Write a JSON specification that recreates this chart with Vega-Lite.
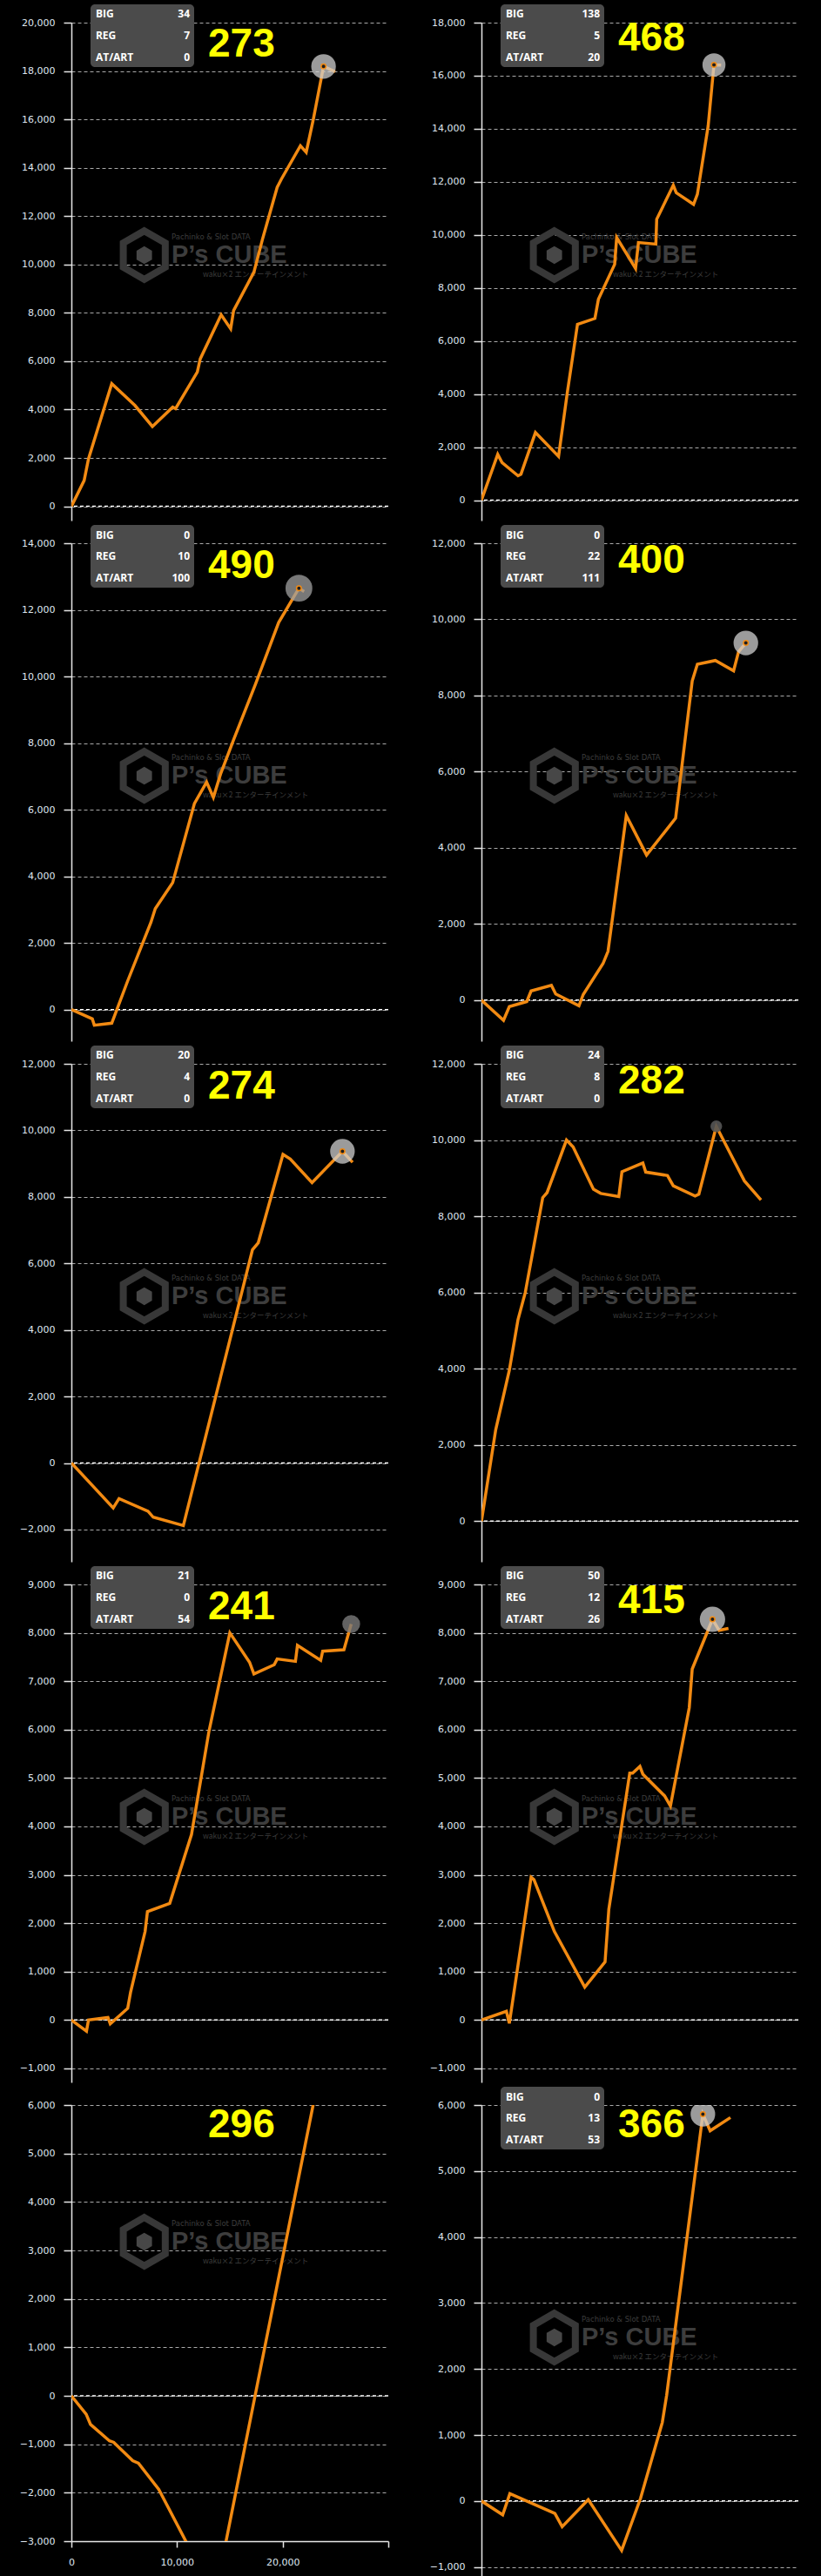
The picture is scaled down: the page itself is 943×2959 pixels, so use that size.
{
"$schema": "https://vega.github.io/schema/vega-lite/v6.json",
"background": "#000000",
"padding": {"left": 22, "top": 4, "right": 26, "bottom": 0},
"columns": 2,
"spacing": {"row": 26, "column": 107},
"bounds": "flush",
"datasets": {
"baseline": [{"value": 0}],
"brand": [{"tagline": "Pachinko & Slot DATA", "name": "P’s CUBE", "company": "waku×2 エンターテインメント"}],
"stats": [
{"panel": 1, "names": ["BIG","REG","AT/ART"], "counts": [34,7,0], "games": 273},
{"panel": 2, "names": ["BIG","REG","AT/ART"], "counts": [138,5,20], "games": 468},
{"panel": 3, "names": ["BIG","REG","AT/ART"], "counts": [0,10,100], "games": 490},
{"panel": 4, "names": ["BIG","REG","AT/ART"], "counts": [0,22,111], "games": 400},
{"panel": 5, "names": ["BIG","REG","AT/ART"], "counts": [20,4,0], "games": 274},
{"panel": 6, "names": ["BIG","REG","AT/ART"], "counts": [24,8,0], "games": 282},
{"panel": 7, "names": ["BIG","REG","AT/ART"], "counts": [21,0,54], "games": 241},
{"panel": 8, "names": ["BIG","REG","AT/ART"], "counts": [50,12,26], "games": 415},
{"panel": 9, "games": 296},
{"panel": 10, "names": ["BIG","REG","AT/ART"], "counts": [0,13,53], "games": 366}
],
"p1": [{"g":0,"diff":0},{"g":1210,"diff":1070},{"g":1620,"diff":1970},{"g":3820,"diff":5070},{"g":6020,"diff":4170},{"g":7670,"diff":3300},{"g":9590,"diff":4100},{"g":9860,"diff":4040},{"g":11920,"diff":5550},{"g":12200,"diff":6100},{"g":14180,"diff":7920},{"g":15080,"diff":7340},{"g":15360,"diff":8100},{"g":17280,"diff":9680},{"g":18100,"diff":11060},{"g":19480,"diff":13190},{"g":19890,"diff":13540},{"g":21680,"diff":14910},{"g":22230,"diff":14640},{"g":22910,"diff":16020},{"g":23870,"diff":18190},{"g":24970,"diff":17970}],
"p2": [{"g":0,"diff":0},{"g":1540,"diff":1730},{"g":1950,"diff":1420},{"g":3460,"diff":920},{"g":3740,"diff":980},{"g":5110,"diff":2550},{"g":7300,"diff":1650},{"g":8130,"diff":4060},{"g":9090,"diff":6630},{"g":10740,"diff":6850},{"g":11070,"diff":7570},{"g":12610,"diff":8890},{"g":12800,"diff":9900},{"g":14590,"diff":8730},{"g":14860,"diff":9710},{"g":16510,"diff":9650},{"g":16590,"diff":10590},{"g":18160,"diff":11870},{"g":18440,"diff":11590},{"g":20080,"diff":11150},{"g":20440,"diff":11530},{"g":21460,"diff":14100},{"g":22010,"diff":16410},{"g":22690,"diff":16400}],
"p3": [{"g":0,"diff":0},{"g":1980,"diff":-280},{"g":2170,"diff":-470},{"g":3820,"diff":-410},{"g":5330,"diff":860},{"g":7530,"diff":2620},{"g":7940,"diff":3030},{"g":9590,"diff":3810},{"g":11650,"diff":6190},{"g":12800,"diff":6830},{"g":13440,"diff":6370},{"g":14120,"diff":7070},{"g":15360,"diff":8100},{"g":17420,"diff":9760},{"g":19620,"diff":11620},{"g":21540,"diff":12650},{"g":22030,"diff":12550}],
"p4": [{"g":0,"diff":0},{"g":2090,"diff":-530},{"g":2640,"diff":-170},{"g":4290,"diff":-40},{"g":4700,"diff":240},{"g":6620,"diff":390},{"g":7030,"diff":160},{"g":9230,"diff":-150},{"g":9640,"diff":150},{"g":11510,"diff":960},{"g":11980,"diff":1280},{"g":13710,"diff":4850},{"g":15630,"diff":3810},{"g":18380,"diff":4780},{"g":19950,"diff":8380},{"g":20440,"diff":8820},{"g":22140,"diff":8920},{"g":23870,"diff":8650},{"g":24340,"diff":9150},{"g":25030,"diff":9380}],
"p5": [{"g":0,"diff":0},{"g":3960,"diff":-1350},{"g":4510,"diff":-1070},{"g":7250,"diff":-1450},{"g":7750,"diff":-1630},{"g":10600,"diff":-1880},{"g":17140,"diff":6410},{"g":17690,"diff":6620},{"g":20030,"diff":9280},{"g":20720,"diff":9140},{"g":22780,"diff":8430},{"g":25660,"diff":9370},{"g":26620,"diff":9040}],
"p6": [{"g":0,"diff":0},{"g":1350,"diff":2400},{"g":2640,"diff":3960},{"g":3460,"diff":5290},{"g":4150,"diff":6000},{"g":5800,"diff":8490},{"g":6210,"diff":8620},{"g":8050,"diff":10000},{"g":8680,"diff":9820},{"g":10600,"diff":8710},{"g":11290,"diff":8600},{"g":13000,"diff":8520},{"g":13300,"diff":9170},{"g":15280,"diff":9400},{"g":15550,"diff":9160},{"g":17610,"diff":9070},{"g":18160,"diff":8800},{"g":20220,"diff":8530},{"g":20580,"diff":8580},{"g":22230,"diff":10360},{"g":24890,"diff":8930},{"g":26460,"diff":8430}],
"p7": [{"g":0,"diff":0},{"g":1430,"diff":-230},{"g":1620,"diff":0},{"g":3460,"diff":50},{"g":3680,"diff":-80},{"g":5330,"diff":240},{"g":5600,"diff":570},{"g":6980,"diff":1830},{"g":7200,"diff":2240},{"g":9310,"diff":2410},{"g":11370,"diff":3830},{"g":13020,"diff":5960},{"g":15000,"diff":8000},{"g":16870,"diff":7390},{"g":17280,"diff":7150},{"g":19200,"diff":7340},{"g":19480,"diff":7460},{"g":21210,"diff":7410},{"g":21400,"diff":7740},{"g":23600,"diff":7430},{"g":23790,"diff":7620},{"g":25800,"diff":7650},{"g":26490,"diff":8180}],
"p8": [{"g":0,"diff":0},{"g":2360,"diff":180},{"g":2640,"diff":-70},{"g":4700,"diff":2950},{"g":4970,"diff":2900},{"g":6900,"diff":1830},{"g":9780,"diff":680},{"g":11700,"diff":1200},{"g":12060,"diff":2290},{"g":14040,"diff":5100},{"g":14310,"diff":5100},{"g":15000,"diff":5240},{"g":15280,"diff":5080},{"g":17340,"diff":4630},{"g":17890,"diff":4420},{"g":19670,"diff":6450},{"g":19950,"diff":7250},{"g":21870,"diff":8280},{"g":22500,"diff":8050},{"g":23380,"diff":8090}],
"p9": [{"g":0,"diff":0},{"g":1400,"diff":-380},{"g":1810,"diff":-590},{"g":3600,"diff":-930},{"g":4010,"diff":-960},{"g":5800,"diff":-1340},{"g":6350,"diff":-1390},{"g":8270,"diff":-1930},{"g":13590,"diff":-4150},{"g":24000,"diff":7220}],
"p10": [{"g":0,"diff":0},{"g":2010,"diff":-210},{"g":2690,"diff":110},{"g":6950,"diff":-190},{"g":7640,"diff":-390},{"g":10110,"diff":20},{"g":13270,"diff":-750},{"g":15060,"diff":40},{"g":17120,"diff":1190},{"g":17530,"diff":1600},{"g":20960,"diff":5860},{"g":21650,"diff":5610},{"g":23570,"diff":5810}]
},
"concat": [
{"width": 364, "height": 572, "layer": [
{"data":{"name":"brand"},"mark":{"type":"point","shape":"M0,-1L0.866,-0.5L0.866,0.5L0,1L-0.866,0.5L-0.866,-0.5Z","size":3100,"filled":false,"stroke":"#383838","strokeWidth":8,"opacity":1},"encoding":{"x":{"datum":6900},"y":{"datum":10388}}},
{"data":{"name":"brand"},"mark":{"type":"point","shape":"M0,-1L0.866,-0.5L0.866,0.5L0,1L-0.866,0.5L-0.866,-0.5Z","size":420,"filled":true,"color":"#474747","opacity":1},"encoding":{"x":{"datum":6900},"y":{"datum":10388}}},
{"data":{"name":"brand"},"mark":{"type":"text","align":"left","baseline":"middle","dy":-21,"font":"DejaVu Sans","fontSize":8.5,"color":"#3d3d3d"},"encoding":{"x":{"datum":9480},"y":{"datum":10388},"text":{"field":"tagline","type":"nominal"}}},
{"data":{"name":"brand"},"mark":{"type":"text","align":"left","baseline":"middle","font":"Liberation Sans","fontSize":29,"fontWeight":"bold","color":"#3d3d3d"},"encoding":{"x":{"datum":9480},"y":{"datum":10388},"text":{"field":"name","type":"nominal"}}},
{"data":{"name":"brand"},"mark":{"type":"text","align":"left","baseline":"middle","dy":22,"font":"Noto Sans CJK JP","fontSize":8.5,"color":"#3d3d3d"},"encoding":{"x":{"datum":12450},"y":{"datum":10388},"text":{"field":"company","type":"nominal"}}},
{"data":{"name":"baseline"},"mark":{"type":"rule","color":"#ffffff","strokeDash":[4,3],"strokeWidth":1.5},"encoding":{"y":{"field":"value","type":"quantitative","title":null}}},
{"data":{"name":"p1"},"mark":{"type":"line","color":"#f28a12","strokeWidth":3.5,"clip":true},"encoding":{"x":{"field":"g","type":"quantitative","scale":{"domain":[0,30000],"nice":false,"zero":false},"title":null},"y":{"field":"diff","type":"quantitative","scale":{"domain":[-590,20000],"nice":false,"zero":false},"axis":{"values":[0,2000,4000,6000,8000,10000,12000,14000,16000,18000,20000],"title":null}}}},
{"data":{"name":"p1"},"transform":[{"joinaggregate":[{"op":"max","field":"diff","as":"peak"}]},{"filter":"datum.diff == datum.peak"}],"mark":{"type":"circle","size":800,"color":"#cfcfcf","opacity":0.75,"clip":true},"encoding":{"x":{"field":"g","type":"quantitative"},"y":{"field":"diff","type":"quantitative"}}},
{"data":{"name":"p1"},"transform":[{"joinaggregate":[{"op":"max","field":"diff","as":"peak"}]},{"filter":"datum.diff == datum.peak"}],"mark":{"type":"circle","size":30,"color":"#1e1e1e","stroke":"#f28a12","strokeWidth":1.5,"opacity":1,"clip":true},"encoding":{"x":{"field":"g","type":"quantitative"},"y":{"field":"diff","type":"quantitative"}}},
{"data":{"name":"stats"},"transform":[{"filter":"datum.panel == 1"}],"mark":{"type":"rect","color":"#4b4b4b","cornerRadius":5},"encoding":{"x":{"datum":1810},"x2":{"datum":11620},"y":{"datum":20756},"y2":{"datum":18164}}},
{"data":{"name":"stats"},"transform":[{"filter":"datum.panel == 1"}],"mark":{"type":"text","align":"left","baseline":"middle","lineHeight":24.6,"font":"Open Sans","fontSize":12,"fontWeight":"bold","color":"#ffffff"},"encoding":{"x":{"datum":2300},"y":{"datum":20342},"text":{"field":"names","type":"nominal"}}},
{"data":{"name":"stats"},"transform":[{"filter":"datum.panel == 1"}],"mark":{"type":"text","align":"right","baseline":"middle","lineHeight":24.6,"font":"Open Sans","fontSize":12,"fontWeight":"bold","color":"#ffffff"},"encoding":{"x":{"datum":11210},"y":{"datum":20342},"text":{"field":"counts","type":"nominal"}}},
{"data":{"name":"stats"},"transform":[{"filter":"datum.panel == 1"}],"mark":{"type":"text","align":"center","baseline":"middle","font":"Liberation Sans","fontSize":46,"fontWeight":"bold","color":"#ffff00"},"encoding":{"x":{"datum":16100},"y":{"datum":19100},"text":{"field":"games","type":"nominal"}}}
]},
{"width": 364, "height": 572, "layer": [
{"data":{"name":"brand"},"mark":{"type":"point","shape":"M0,-1L0.866,-0.5L0.866,0.5L0,1L-0.866,0.5L-0.866,-0.5Z","size":3100,"filled":false,"stroke":"#383838","strokeWidth":8,"opacity":1},"encoding":{"x":{"datum":6900},"y":{"datum":9240}}},
{"data":{"name":"brand"},"mark":{"type":"point","shape":"M0,-1L0.866,-0.5L0.866,0.5L0,1L-0.866,0.5L-0.866,-0.5Z","size":420,"filled":true,"color":"#474747","opacity":1},"encoding":{"x":{"datum":6900},"y":{"datum":9240}}},
{"data":{"name":"brand"},"mark":{"type":"text","align":"left","baseline":"middle","dy":-21,"font":"DejaVu Sans","fontSize":8.5,"color":"#3d3d3d"},"encoding":{"x":{"datum":9480},"y":{"datum":9240},"text":{"field":"tagline","type":"nominal"}}},
{"data":{"name":"brand"},"mark":{"type":"text","align":"left","baseline":"middle","font":"Liberation Sans","fontSize":29,"fontWeight":"bold","color":"#3d3d3d"},"encoding":{"x":{"datum":9480},"y":{"datum":9240},"text":{"field":"name","type":"nominal"}}},
{"data":{"name":"brand"},"mark":{"type":"text","align":"left","baseline":"middle","dy":22,"font":"Noto Sans CJK JP","fontSize":8.5,"color":"#3d3d3d"},"encoding":{"x":{"datum":12450},"y":{"datum":9240},"text":{"field":"company","type":"nominal"}}},
{"data":{"name":"baseline"},"mark":{"type":"rule","color":"#ffffff","strokeDash":[4,3],"strokeWidth":1.5},"encoding":{"y":{"field":"value","type":"quantitative","title":null}}},
{"data":{"name":"p2"},"mark":{"type":"line","color":"#f28a12","strokeWidth":3.5,"clip":true},"encoding":{"x":{"field":"g","type":"quantitative","scale":{"domain":[0,30000],"nice":false,"zero":false},"title":null},"y":{"field":"diff","type":"quantitative","scale":{"domain":[-770,18000],"nice":false,"zero":false},"axis":{"values":[0,2000,4000,6000,8000,10000,12000,14000,16000,18000],"title":null}}}},
{"data":{"name":"p2"},"transform":[{"joinaggregate":[{"op":"max","field":"diff","as":"peak"}]},{"filter":"datum.diff == datum.peak"}],"mark":{"type":"circle","size":700,"color":"#cfcfcf","opacity":0.75,"clip":true},"encoding":{"x":{"field":"g","type":"quantitative"},"y":{"field":"diff","type":"quantitative"}}},
{"data":{"name":"p2"},"transform":[{"joinaggregate":[{"op":"max","field":"diff","as":"peak"}]},{"filter":"datum.diff == datum.peak"}],"mark":{"type":"circle","size":30,"color":"#1e1e1e","stroke":"#f28a12","strokeWidth":1.5,"opacity":1,"clip":true},"encoding":{"x":{"field":"g","type":"quantitative"},"y":{"field":"diff","type":"quantitative"}}},
{"data":{"name":"stats"},"transform":[{"filter":"datum.panel == 2"}],"mark":{"type":"rect","color":"#4b4b4b","cornerRadius":5},"encoding":{"x":{"datum":1810},"x2":{"datum":11620},"y":{"datum":18689},"y2":{"datum":16327}}},
{"data":{"name":"stats"},"transform":[{"filter":"datum.panel == 2"}],"mark":{"type":"text","align":"left","baseline":"middle","lineHeight":24.6,"font":"Open Sans","fontSize":12,"fontWeight":"bold","color":"#ffffff"},"encoding":{"x":{"datum":2300},"y":{"datum":18312},"text":{"field":"names","type":"nominal"}}},
{"data":{"name":"stats"},"transform":[{"filter":"datum.panel == 2"}],"mark":{"type":"text","align":"right","baseline":"middle","lineHeight":24.6,"font":"Open Sans","fontSize":12,"fontWeight":"bold","color":"#ffffff"},"encoding":{"x":{"datum":11210},"y":{"datum":18312},"text":{"field":"counts","type":"nominal"}}},
{"data":{"name":"stats"},"transform":[{"filter":"datum.panel == 2"}],"mark":{"type":"text","align":"center","baseline":"middle","font":"Liberation Sans","fontSize":46,"fontWeight":"bold","color":"#ffff00"},"encoding":{"x":{"datum":16100},"y":{"datum":17400},"text":{"field":"games","type":"nominal"}}}
]},
{"width": 364, "height": 572, "layer": [
{"data":{"name":"brand"},"mark":{"type":"point","shape":"M0,-1L0.866,-0.5L0.866,0.5L0,1L-0.866,0.5L-0.866,-0.5Z","size":3100,"filled":false,"stroke":"#383838","strokeWidth":8,"opacity":1},"encoding":{"x":{"datum":6900},"y":{"datum":7021}}},
{"data":{"name":"brand"},"mark":{"type":"point","shape":"M0,-1L0.866,-0.5L0.866,0.5L0,1L-0.866,0.5L-0.866,-0.5Z","size":420,"filled":true,"color":"#474747","opacity":1},"encoding":{"x":{"datum":6900},"y":{"datum":7021}}},
{"data":{"name":"brand"},"mark":{"type":"text","align":"left","baseline":"middle","dy":-21,"font":"DejaVu Sans","fontSize":8.5,"color":"#3d3d3d"},"encoding":{"x":{"datum":9480},"y":{"datum":7021},"text":{"field":"tagline","type":"nominal"}}},
{"data":{"name":"brand"},"mark":{"type":"text","align":"left","baseline":"middle","font":"Liberation Sans","fontSize":29,"fontWeight":"bold","color":"#3d3d3d"},"encoding":{"x":{"datum":9480},"y":{"datum":7021},"text":{"field":"name","type":"nominal"}}},
{"data":{"name":"brand"},"mark":{"type":"text","align":"left","baseline":"middle","dy":22,"font":"Noto Sans CJK JP","fontSize":8.5,"color":"#3d3d3d"},"encoding":{"x":{"datum":12450},"y":{"datum":7021},"text":{"field":"company","type":"nominal"}}},
{"data":{"name":"baseline"},"mark":{"type":"rule","color":"#ffffff","strokeDash":[4,3],"strokeWidth":1.5},"encoding":{"y":{"field":"value","type":"quantitative","title":null}}},
{"data":{"name":"p3"},"mark":{"type":"line","color":"#f28a12","strokeWidth":3.5,"clip":true},"encoding":{"x":{"field":"g","type":"quantitative","scale":{"domain":[0,30000],"nice":false,"zero":false},"title":null},"y":{"field":"diff","type":"quantitative","scale":{"domain":[-950,14000],"nice":false,"zero":false},"axis":{"values":[0,2000,4000,6000,8000,10000,12000,14000],"title":null}}}},
{"data":{"name":"p3"},"transform":[{"joinaggregate":[{"op":"max","field":"diff","as":"peak"}]},{"filter":"datum.diff == datum.peak"}],"mark":{"type":"circle","size":950,"color":"#a0a0a0","opacity":0.75,"clip":true},"encoding":{"x":{"field":"g","type":"quantitative"},"y":{"field":"diff","type":"quantitative"}}},
{"data":{"name":"p3"},"transform":[{"joinaggregate":[{"op":"max","field":"diff","as":"peak"}]},{"filter":"datum.diff == datum.peak"}],"mark":{"type":"circle","size":30,"color":"#1e1e1e","stroke":"#f28a12","strokeWidth":1.5,"opacity":1,"clip":true},"encoding":{"x":{"field":"g","type":"quantitative"},"y":{"field":"diff","type":"quantitative"}}},
{"data":{"name":"stats"},"transform":[{"filter":"datum.panel == 3"}],"mark":{"type":"rect","color":"#4b4b4b","cornerRadius":5},"encoding":{"x":{"datum":1810},"x2":{"datum":11620},"y":{"datum":14549},"y2":{"datum":12667}}},
{"data":{"name":"stats"},"transform":[{"filter":"datum.panel == 3"}],"mark":{"type":"text","align":"left","baseline":"middle","lineHeight":24.6,"font":"Open Sans","fontSize":12,"fontWeight":"bold","color":"#ffffff"},"encoding":{"x":{"datum":2300},"y":{"datum":14248},"text":{"field":"names","type":"nominal"}}},
{"data":{"name":"stats"},"transform":[{"filter":"datum.panel == 3"}],"mark":{"type":"text","align":"right","baseline":"middle","lineHeight":24.6,"font":"Open Sans","fontSize":12,"fontWeight":"bold","color":"#ffffff"},"encoding":{"x":{"datum":11210},"y":{"datum":14248},"text":{"field":"counts","type":"nominal"}}},
{"data":{"name":"stats"},"transform":[{"filter":"datum.panel == 3"}],"mark":{"type":"text","align":"center","baseline":"middle","font":"Liberation Sans","fontSize":46,"fontWeight":"bold","color":"#ffff00"},"encoding":{"x":{"datum":16100},"y":{"datum":13320},"text":{"field":"games","type":"nominal"}}}
]},
{"width": 364, "height": 572, "layer": [
{"data":{"name":"brand"},"mark":{"type":"point","shape":"M0,-1L0.866,-0.5L0.866,0.5L0,1L-0.866,0.5L-0.866,-0.5Z","size":3100,"filled":false,"stroke":"#383838","strokeWidth":8,"opacity":1},"encoding":{"x":{"datum":6900},"y":{"datum":5894}}},
{"data":{"name":"brand"},"mark":{"type":"point","shape":"M0,-1L0.866,-0.5L0.866,0.5L0,1L-0.866,0.5L-0.866,-0.5Z","size":420,"filled":true,"color":"#474747","opacity":1},"encoding":{"x":{"datum":6900},"y":{"datum":5894}}},
{"data":{"name":"brand"},"mark":{"type":"text","align":"left","baseline":"middle","dy":-21,"font":"DejaVu Sans","fontSize":8.5,"color":"#3d3d3d"},"encoding":{"x":{"datum":9480},"y":{"datum":5894},"text":{"field":"tagline","type":"nominal"}}},
{"data":{"name":"brand"},"mark":{"type":"text","align":"left","baseline":"middle","font":"Liberation Sans","fontSize":29,"fontWeight":"bold","color":"#3d3d3d"},"encoding":{"x":{"datum":9480},"y":{"datum":5894},"text":{"field":"name","type":"nominal"}}},
{"data":{"name":"brand"},"mark":{"type":"text","align":"left","baseline":"middle","dy":22,"font":"Noto Sans CJK JP","fontSize":8.5,"color":"#3d3d3d"},"encoding":{"x":{"datum":12450},"y":{"datum":5894},"text":{"field":"company","type":"nominal"}}},
{"data":{"name":"baseline"},"mark":{"type":"rule","color":"#ffffff","strokeDash":[4,3],"strokeWidth":1.5},"encoding":{"y":{"field":"value","type":"quantitative","title":null}}},
{"data":{"name":"p4"},"mark":{"type":"line","color":"#f28a12","strokeWidth":3.5,"clip":true},"encoding":{"x":{"field":"g","type":"quantitative","scale":{"domain":[0,30000],"nice":false,"zero":false},"title":null},"y":{"field":"diff","type":"quantitative","scale":{"domain":[-1080,12000],"nice":false,"zero":false},"axis":{"values":[0,2000,4000,6000,8000,10000,12000],"title":null}}}},
{"data":{"name":"p4"},"transform":[{"joinaggregate":[{"op":"max","field":"diff","as":"peak"}]},{"filter":"datum.diff == datum.peak"}],"mark":{"type":"circle","size":800,"color":"#cfcfcf","opacity":0.75,"clip":true},"encoding":{"x":{"field":"g","type":"quantitative"},"y":{"field":"diff","type":"quantitative"}}},
{"data":{"name":"p4"},"transform":[{"joinaggregate":[{"op":"max","field":"diff","as":"peak"}]},{"filter":"datum.diff == datum.peak"}],"mark":{"type":"circle","size":30,"color":"#1e1e1e","stroke":"#f28a12","strokeWidth":1.5,"opacity":1,"clip":true},"encoding":{"x":{"field":"g","type":"quantitative"},"y":{"field":"diff","type":"quantitative"}}},
{"data":{"name":"stats"},"transform":[{"filter":"datum.panel == 4"}],"mark":{"type":"rect","color":"#4b4b4b","cornerRadius":5},"encoding":{"x":{"datum":1810},"x2":{"datum":11620},"y":{"datum":12480},"y2":{"datum":10834}}},
{"data":{"name":"stats"},"transform":[{"filter":"datum.panel == 4"}],"mark":{"type":"text","align":"left","baseline":"middle","lineHeight":24.6,"font":"Open Sans","fontSize":12,"fontWeight":"bold","color":"#ffffff"},"encoding":{"x":{"datum":2300},"y":{"datum":12217},"text":{"field":"names","type":"nominal"}}},
{"data":{"name":"stats"},"transform":[{"filter":"datum.panel == 4"}],"mark":{"type":"text","align":"right","baseline":"middle","lineHeight":24.6,"font":"Open Sans","fontSize":12,"fontWeight":"bold","color":"#ffffff"},"encoding":{"x":{"datum":11210},"y":{"datum":12217},"text":{"field":"counts","type":"nominal"}}},
{"data":{"name":"stats"},"transform":[{"filter":"datum.panel == 4"}],"mark":{"type":"text","align":"center","baseline":"middle","font":"Liberation Sans","fontSize":46,"fontWeight":"bold","color":"#ffff00"},"encoding":{"x":{"datum":16100},"y":{"datum":11543},"text":{"field":"games","type":"nominal"}}}
]},
{"width": 364, "height": 572, "layer": [
{"data":{"name":"brand"},"mark":{"type":"point","shape":"M0,-1L0.866,-0.5L0.866,0.5L0,1L-0.866,0.5L-0.866,-0.5Z","size":3100,"filled":false,"stroke":"#383838","strokeWidth":8,"opacity":1},"encoding":{"x":{"datum":6900},"y":{"datum":5013}}},
{"data":{"name":"brand"},"mark":{"type":"point","shape":"M0,-1L0.866,-0.5L0.866,0.5L0,1L-0.866,0.5L-0.866,-0.5Z","size":420,"filled":true,"color":"#474747","opacity":1},"encoding":{"x":{"datum":6900},"y":{"datum":5013}}},
{"data":{"name":"brand"},"mark":{"type":"text","align":"left","baseline":"middle","dy":-21,"font":"DejaVu Sans","fontSize":8.5,"color":"#3d3d3d"},"encoding":{"x":{"datum":9480},"y":{"datum":5013},"text":{"field":"tagline","type":"nominal"}}},
{"data":{"name":"brand"},"mark":{"type":"text","align":"left","baseline":"middle","font":"Liberation Sans","fontSize":29,"fontWeight":"bold","color":"#3d3d3d"},"encoding":{"x":{"datum":9480},"y":{"datum":5013},"text":{"field":"name","type":"nominal"}}},
{"data":{"name":"brand"},"mark":{"type":"text","align":"left","baseline":"middle","dy":22,"font":"Noto Sans CJK JP","fontSize":8.5,"color":"#3d3d3d"},"encoding":{"x":{"datum":12450},"y":{"datum":5013},"text":{"field":"company","type":"nominal"}}},
{"data":{"name":"baseline"},"mark":{"type":"rule","color":"#ffffff","strokeDash":[4,3],"strokeWidth":1.5},"encoding":{"y":{"field":"value","type":"quantitative","title":null}}},
{"data":{"name":"p5"},"mark":{"type":"line","color":"#f28a12","strokeWidth":3.5,"clip":true},"encoding":{"x":{"field":"g","type":"quantitative","scale":{"domain":[0,30000],"nice":false,"zero":false},"title":null},"y":{"field":"diff","type":"quantitative","scale":{"domain":[-2970,12000],"nice":false,"zero":false},"axis":{"values":[-2000,0,2000,4000,6000,8000,10000,12000],"title":null}}}},
{"data":{"name":"p5"},"transform":[{"joinaggregate":[{"op":"max","field":"diff","as":"peak"}]},{"filter":"datum.diff == datum.peak"}],"mark":{"type":"circle","size":800,"color":"#cfcfcf","opacity":0.75,"clip":true},"encoding":{"x":{"field":"g","type":"quantitative"},"y":{"field":"diff","type":"quantitative"}}},
{"data":{"name":"p5"},"transform":[{"joinaggregate":[{"op":"max","field":"diff","as":"peak"}]},{"filter":"datum.diff == datum.peak"}],"mark":{"type":"circle","size":30,"color":"#1e1e1e","stroke":"#f28a12","strokeWidth":1.5,"opacity":1,"clip":true},"encoding":{"x":{"field":"g","type":"quantitative"},"y":{"field":"diff","type":"quantitative"}}},
{"data":{"name":"stats"},"transform":[{"filter":"datum.panel == 5"}],"mark":{"type":"rect","color":"#4b4b4b","cornerRadius":5},"encoding":{"x":{"datum":1810},"x2":{"datum":11620},"y":{"datum":12550},"y2":{"datum":10665}}},
{"data":{"name":"stats"},"transform":[{"filter":"datum.panel == 5"}],"mark":{"type":"text","align":"left","baseline":"middle","lineHeight":24.6,"font":"Open Sans","fontSize":12,"fontWeight":"bold","color":"#ffffff"},"encoding":{"x":{"datum":2300},"y":{"datum":12249},"text":{"field":"names","type":"nominal"}}},
{"data":{"name":"stats"},"transform":[{"filter":"datum.panel == 5"}],"mark":{"type":"text","align":"right","baseline":"middle","lineHeight":24.6,"font":"Open Sans","fontSize":12,"fontWeight":"bold","color":"#ffffff"},"encoding":{"x":{"datum":11210},"y":{"datum":12249},"text":{"field":"counts","type":"nominal"}}},
{"data":{"name":"stats"},"transform":[{"filter":"datum.panel == 5"}],"mark":{"type":"text","align":"center","baseline":"middle","font":"Liberation Sans","fontSize":46,"fontWeight":"bold","color":"#ffff00"},"encoding":{"x":{"datum":16100},"y":{"datum":11320},"text":{"field":"games","type":"nominal"}}}
]},
{"width": 364, "height": 572, "layer": [
{"data":{"name":"brand"},"mark":{"type":"point","shape":"M0,-1L0.866,-0.5L0.866,0.5L0,1L-0.866,0.5L-0.866,-0.5Z","size":3100,"filled":false,"stroke":"#383838","strokeWidth":8,"opacity":1},"encoding":{"x":{"datum":6900},"y":{"datum":5902}}},
{"data":{"name":"brand"},"mark":{"type":"point","shape":"M0,-1L0.866,-0.5L0.866,0.5L0,1L-0.866,0.5L-0.866,-0.5Z","size":420,"filled":true,"color":"#474747","opacity":1},"encoding":{"x":{"datum":6900},"y":{"datum":5902}}},
{"data":{"name":"brand"},"mark":{"type":"text","align":"left","baseline":"middle","dy":-21,"font":"DejaVu Sans","fontSize":8.5,"color":"#3d3d3d"},"encoding":{"x":{"datum":9480},"y":{"datum":5902},"text":{"field":"tagline","type":"nominal"}}},
{"data":{"name":"brand"},"mark":{"type":"text","align":"left","baseline":"middle","font":"Liberation Sans","fontSize":29,"fontWeight":"bold","color":"#3d3d3d"},"encoding":{"x":{"datum":9480},"y":{"datum":5902},"text":{"field":"name","type":"nominal"}}},
{"data":{"name":"brand"},"mark":{"type":"text","align":"left","baseline":"middle","dy":22,"font":"Noto Sans CJK JP","fontSize":8.5,"color":"#3d3d3d"},"encoding":{"x":{"datum":12450},"y":{"datum":5902},"text":{"field":"company","type":"nominal"}}},
{"data":{"name":"baseline"},"mark":{"type":"rule","color":"#ffffff","strokeDash":[4,3],"strokeWidth":1.5},"encoding":{"y":{"field":"value","type":"quantitative","title":null}}},
{"data":{"name":"p6"},"mark":{"type":"line","color":"#f28a12","strokeWidth":3.5,"clip":true},"encoding":{"x":{"field":"g","type":"quantitative","scale":{"domain":[0,30000],"nice":false,"zero":false},"title":null},"y":{"field":"diff","type":"quantitative","scale":{"domain":[-1065,12000],"nice":false,"zero":false},"axis":{"values":[0,2000,4000,6000,8000,10000,12000],"title":null}}}},
{"data":{"name":"p6"},"transform":[{"joinaggregate":[{"op":"max","field":"diff","as":"peak"}]},{"filter":"datum.diff == datum.peak"}],"mark":{"type":"circle","size":180,"color":"#555555","opacity":0.9,"clip":true},"encoding":{"x":{"field":"g","type":"quantitative"},"y":{"field":"diff","type":"quantitative"}}},
{"data":{"name":"stats"},"transform":[{"filter":"datum.panel == 6"}],"mark":{"type":"rect","color":"#4b4b4b","cornerRadius":5},"encoding":{"x":{"datum":1810},"x2":{"datum":11620},"y":{"datum":12480},"y2":{"datum":10835}}},
{"data":{"name":"stats"},"transform":[{"filter":"datum.panel == 6"}],"mark":{"type":"text","align":"left","baseline":"middle","lineHeight":24.6,"font":"Open Sans","fontSize":12,"fontWeight":"bold","color":"#ffffff"},"encoding":{"x":{"datum":2300},"y":{"datum":12217},"text":{"field":"names","type":"nominal"}}},
{"data":{"name":"stats"},"transform":[{"filter":"datum.panel == 6"}],"mark":{"type":"text","align":"right","baseline":"middle","lineHeight":24.6,"font":"Open Sans","fontSize":12,"fontWeight":"bold","color":"#ffffff"},"encoding":{"x":{"datum":11210},"y":{"datum":12217},"text":{"field":"counts","type":"nominal"}}},
{"data":{"name":"stats"},"transform":[{"filter":"datum.panel == 6"}],"mark":{"type":"text","align":"center","baseline":"middle","font":"Liberation Sans","fontSize":46,"fontWeight":"bold","color":"#ffff00"},"encoding":{"x":{"datum":16100},"y":{"datum":11532},"text":{"field":"games","type":"nominal"}}}
]},
{"width": 364, "height": 572, "layer": [
{"data":{"name":"brand"},"mark":{"type":"point","shape":"M0,-1L0.866,-0.5L0.866,0.5L0,1L-0.866,0.5L-0.866,-0.5Z","size":3100,"filled":false,"stroke":"#383838","strokeWidth":8,"opacity":1},"encoding":{"x":{"datum":6900},"y":{"datum":4197}}},
{"data":{"name":"brand"},"mark":{"type":"point","shape":"M0,-1L0.866,-0.5L0.866,0.5L0,1L-0.866,0.5L-0.866,-0.5Z","size":420,"filled":true,"color":"#474747","opacity":1},"encoding":{"x":{"datum":6900},"y":{"datum":4197}}},
{"data":{"name":"brand"},"mark":{"type":"text","align":"left","baseline":"middle","dy":-21,"font":"DejaVu Sans","fontSize":8.5,"color":"#3d3d3d"},"encoding":{"x":{"datum":9480},"y":{"datum":4197},"text":{"field":"tagline","type":"nominal"}}},
{"data":{"name":"brand"},"mark":{"type":"text","align":"left","baseline":"middle","font":"Liberation Sans","fontSize":29,"fontWeight":"bold","color":"#3d3d3d"},"encoding":{"x":{"datum":9480},"y":{"datum":4197},"text":{"field":"name","type":"nominal"}}},
{"data":{"name":"brand"},"mark":{"type":"text","align":"left","baseline":"middle","dy":22,"font":"Noto Sans CJK JP","fontSize":8.5,"color":"#3d3d3d"},"encoding":{"x":{"datum":12450},"y":{"datum":4197},"text":{"field":"company","type":"nominal"}}},
{"data":{"name":"baseline"},"mark":{"type":"rule","color":"#ffffff","strokeDash":[4,3],"strokeWidth":1.5},"encoding":{"y":{"field":"value","type":"quantitative","title":null}}},
{"data":{"name":"p7"},"mark":{"type":"line","color":"#f28a12","strokeWidth":3.5,"clip":true},"encoding":{"x":{"field":"g","type":"quantitative","scale":{"domain":[0,30000],"nice":false,"zero":false},"title":null},"y":{"field":"diff","type":"quantitative","scale":{"domain":[-1290,9000],"nice":false,"zero":false},"axis":{"values":[-1000,0,1000,2000,3000,4000,5000,6000,7000,8000,9000],"title":null}}}},
{"data":{"name":"p7"},"transform":[{"joinaggregate":[{"op":"max","field":"diff","as":"peak"}]},{"filter":"datum.diff == datum.peak"}],"mark":{"type":"circle","size":420,"color":"#7a7a7a","opacity":0.8,"clip":true},"encoding":{"x":{"field":"g","type":"quantitative"},"y":{"field":"diff","type":"quantitative"}}},
{"data":{"name":"stats"},"transform":[{"filter":"datum.panel == 7"}],"mark":{"type":"rect","color":"#4b4b4b","cornerRadius":5},"encoding":{"x":{"datum":1810},"x2":{"datum":11620},"y":{"datum":9378},"y2":{"datum":8083}}},
{"data":{"name":"stats"},"transform":[{"filter":"datum.panel == 7"}],"mark":{"type":"text","align":"left","baseline":"middle","lineHeight":24.6,"font":"Open Sans","fontSize":12,"fontWeight":"bold","color":"#ffffff"},"encoding":{"x":{"datum":2300},"y":{"datum":9171},"text":{"field":"names","type":"nominal"}}},
{"data":{"name":"stats"},"transform":[{"filter":"datum.panel == 7"}],"mark":{"type":"text","align":"right","baseline":"middle","lineHeight":24.6,"font":"Open Sans","fontSize":12,"fontWeight":"bold","color":"#ffffff"},"encoding":{"x":{"datum":11210},"y":{"datum":9171},"text":{"field":"counts","type":"nominal"}}},
{"data":{"name":"stats"},"transform":[{"filter":"datum.panel == 7"}],"mark":{"type":"text","align":"center","baseline":"middle","font":"Liberation Sans","fontSize":46,"fontWeight":"bold","color":"#ffff00"},"encoding":{"x":{"datum":16100},"y":{"datum":8532},"text":{"field":"games","type":"nominal"}}}
]},
{"width": 364, "height": 572, "layer": [
{"data":{"name":"brand"},"mark":{"type":"point","shape":"M0,-1L0.866,-0.5L0.866,0.5L0,1L-0.866,0.5L-0.866,-0.5Z","size":3100,"filled":false,"stroke":"#383838","strokeWidth":8,"opacity":1},"encoding":{"x":{"datum":6900},"y":{"datum":4197}}},
{"data":{"name":"brand"},"mark":{"type":"point","shape":"M0,-1L0.866,-0.5L0.866,0.5L0,1L-0.866,0.5L-0.866,-0.5Z","size":420,"filled":true,"color":"#474747","opacity":1},"encoding":{"x":{"datum":6900},"y":{"datum":4197}}},
{"data":{"name":"brand"},"mark":{"type":"text","align":"left","baseline":"middle","dy":-21,"font":"DejaVu Sans","fontSize":8.5,"color":"#3d3d3d"},"encoding":{"x":{"datum":9480},"y":{"datum":4197},"text":{"field":"tagline","type":"nominal"}}},
{"data":{"name":"brand"},"mark":{"type":"text","align":"left","baseline":"middle","font":"Liberation Sans","fontSize":29,"fontWeight":"bold","color":"#3d3d3d"},"encoding":{"x":{"datum":9480},"y":{"datum":4197},"text":{"field":"name","type":"nominal"}}},
{"data":{"name":"brand"},"mark":{"type":"text","align":"left","baseline":"middle","dy":22,"font":"Noto Sans CJK JP","fontSize":8.5,"color":"#3d3d3d"},"encoding":{"x":{"datum":12450},"y":{"datum":4197},"text":{"field":"company","type":"nominal"}}},
{"data":{"name":"baseline"},"mark":{"type":"rule","color":"#ffffff","strokeDash":[4,3],"strokeWidth":1.5},"encoding":{"y":{"field":"value","type":"quantitative","title":null}}},
{"data":{"name":"p8"},"mark":{"type":"line","color":"#f28a12","strokeWidth":3.5,"clip":true},"encoding":{"x":{"field":"g","type":"quantitative","scale":{"domain":[0,30000],"nice":false,"zero":false},"title":null},"y":{"field":"diff","type":"quantitative","scale":{"domain":[-1290,9000],"nice":false,"zero":false},"axis":{"values":[-1000,0,1000,2000,3000,4000,5000,6000,7000,8000,9000],"title":null}}}},
{"data":{"name":"p8"},"transform":[{"joinaggregate":[{"op":"max","field":"diff","as":"peak"}]},{"filter":"datum.diff == datum.peak"}],"mark":{"type":"circle","size":850,"color":"#cfcfcf","opacity":0.75,"clip":true},"encoding":{"x":{"field":"g","type":"quantitative"},"y":{"field":"diff","type":"quantitative"}}},
{"data":{"name":"p8"},"transform":[{"joinaggregate":[{"op":"max","field":"diff","as":"peak"}]},{"filter":"datum.diff == datum.peak"}],"mark":{"type":"circle","size":30,"color":"#1e1e1e","stroke":"#f28a12","strokeWidth":1.5,"opacity":1,"clip":true},"encoding":{"x":{"field":"g","type":"quantitative"},"y":{"field":"diff","type":"quantitative"}}},
{"data":{"name":"stats"},"transform":[{"filter":"datum.panel == 8"}],"mark":{"type":"rect","color":"#4b4b4b","cornerRadius":5},"encoding":{"x":{"datum":1810},"x2":{"datum":11620},"y":{"datum":9378},"y2":{"datum":8083}}},
{"data":{"name":"stats"},"transform":[{"filter":"datum.panel == 8"}],"mark":{"type":"text","align":"left","baseline":"middle","lineHeight":24.6,"font":"Open Sans","fontSize":12,"fontWeight":"bold","color":"#ffffff"},"encoding":{"x":{"datum":2300},"y":{"datum":9171},"text":{"field":"names","type":"nominal"}}},
{"data":{"name":"stats"},"transform":[{"filter":"datum.panel == 8"}],"mark":{"type":"text","align":"right","baseline":"middle","lineHeight":24.6,"font":"Open Sans","fontSize":12,"fontWeight":"bold","color":"#ffffff"},"encoding":{"x":{"datum":11210},"y":{"datum":9171},"text":{"field":"counts","type":"nominal"}}},
{"data":{"name":"stats"},"transform":[{"filter":"datum.panel == 8"}],"mark":{"type":"text","align":"center","baseline":"middle","font":"Liberation Sans","fontSize":46,"fontWeight":"bold","color":"#ffff00"},"encoding":{"x":{"datum":16100},"y":{"datum":8658},"text":{"field":"games","type":"nominal"}}}
]},
{"width": 364, "height": 501, "layer": [
{"data":{"name":"brand"},"mark":{"type":"point","shape":"M0,-1L0.866,-0.5L0.866,0.5L0,1L-0.866,0.5L-0.866,-0.5Z","size":3100,"filled":false,"stroke":"#383838","strokeWidth":8,"opacity":1},"encoding":{"x":{"datum":6900},"y":{"datum":3180}}},
{"data":{"name":"brand"},"mark":{"type":"point","shape":"M0,-1L0.866,-0.5L0.866,0.5L0,1L-0.866,0.5L-0.866,-0.5Z","size":420,"filled":true,"color":"#474747","opacity":1},"encoding":{"x":{"datum":6900},"y":{"datum":3180}}},
{"data":{"name":"brand"},"mark":{"type":"text","align":"left","baseline":"middle","dy":-21,"font":"DejaVu Sans","fontSize":8.5,"color":"#3d3d3d"},"encoding":{"x":{"datum":9480},"y":{"datum":3180},"text":{"field":"tagline","type":"nominal"}}},
{"data":{"name":"brand"},"mark":{"type":"text","align":"left","baseline":"middle","font":"Liberation Sans","fontSize":29,"fontWeight":"bold","color":"#3d3d3d"},"encoding":{"x":{"datum":9480},"y":{"datum":3180},"text":{"field":"name","type":"nominal"}}},
{"data":{"name":"brand"},"mark":{"type":"text","align":"left","baseline":"middle","dy":22,"font":"Noto Sans CJK JP","fontSize":8.5,"color":"#3d3d3d"},"encoding":{"x":{"datum":12450},"y":{"datum":3180},"text":{"field":"company","type":"nominal"}}},
{"data":{"name":"baseline"},"mark":{"type":"rule","color":"#ffffff","strokeDash":[4,3],"strokeWidth":1.5},"encoding":{"y":{"field":"value","type":"quantitative","title":null}}},
{"data":{"name":"p9"},"mark":{"type":"line","color":"#f28a12","strokeWidth":3.5,"clip":true},"encoding":{"x":{"field":"g","type":"quantitative","scale":{"domain":[0,30000],"nice":false,"zero":false},"axis":{"domain":true,"ticks":true,"labels":true,"values":[0,10000,20000,30000],"labelExpr":"datum.value >= 30000 ? '' : datum.label","labelFlush":false,"grid":false,"tickSize":7,"labelPadding":11,"domainWidth":1.5,"tickWidth":1.5,"domainColor":"#e6e6e6","tickColor":"#e6e6e6","title":null}},"y":{"field":"diff","type":"quantitative","scale":{"domain":[-3000,6000],"nice":false,"zero":false},"axis":{"values":[-3000,-2000,-1000,0,1000,2000,3000,4000,5000,6000],"title":null}}}},
{"data":{"name":"stats"},"transform":[{"filter":"datum.panel == 9"}],"mark":{"type":"text","align":"center","baseline":"middle","font":"Liberation Sans","fontSize":46,"fontWeight":"bold","color":"#ffff00"},"encoding":{"x":{"datum":16100},"y":{"datum":5587},"text":{"field":"games","type":"nominal"}}}
]},
{"width": 364, "height": 542, "layer": [
{"data":{"name":"brand"},"mark":{"type":"point","shape":"M0,-1L0.866,-0.5L0.866,0.5L0,1L-0.866,0.5L-0.866,-0.5Z","size":3100,"filled":false,"stroke":"#383838","strokeWidth":8,"opacity":1},"encoding":{"x":{"datum":6900},"y":{"datum":2478}}},
{"data":{"name":"brand"},"mark":{"type":"point","shape":"M0,-1L0.866,-0.5L0.866,0.5L0,1L-0.866,0.5L-0.866,-0.5Z","size":420,"filled":true,"color":"#474747","opacity":1},"encoding":{"x":{"datum":6900},"y":{"datum":2478}}},
{"data":{"name":"brand"},"mark":{"type":"text","align":"left","baseline":"middle","dy":-21,"font":"DejaVu Sans","fontSize":8.5,"color":"#3d3d3d"},"encoding":{"x":{"datum":9480},"y":{"datum":2478},"text":{"field":"tagline","type":"nominal"}}},
{"data":{"name":"brand"},"mark":{"type":"text","align":"left","baseline":"middle","font":"Liberation Sans","fontSize":29,"fontWeight":"bold","color":"#3d3d3d"},"encoding":{"x":{"datum":9480},"y":{"datum":2478},"text":{"field":"name","type":"nominal"}}},
{"data":{"name":"brand"},"mark":{"type":"text","align":"left","baseline":"middle","dy":22,"font":"Noto Sans CJK JP","fontSize":8.5,"color":"#3d3d3d"},"encoding":{"x":{"datum":12450},"y":{"datum":2478},"text":{"field":"company","type":"nominal"}}},
{"data":{"name":"baseline"},"mark":{"type":"rule","color":"#ffffff","strokeDash":[4,3],"strokeWidth":1.5},"encoding":{"y":{"field":"value","type":"quantitative","title":null}}},
{"data":{"name":"p10"},"mark":{"type":"line","color":"#f28a12","strokeWidth":3.5,"clip":true},"encoding":{"x":{"field":"g","type":"quantitative","scale":{"domain":[0,30000],"nice":false,"zero":false},"title":null},"y":{"field":"diff","type":"quantitative","scale":{"domain":[-1150,6000],"nice":false,"zero":false},"axis":{"values":[-1000,0,1000,2000,3000,4000,5000,6000],"title":null}}}},
{"data":{"name":"p10"},"transform":[{"joinaggregate":[{"op":"max","field":"diff","as":"peak"}]},{"filter":"datum.diff == datum.peak"}],"mark":{"type":"circle","size":800,"color":"#cfcfcf","opacity":0.75,"clip":true},"encoding":{"x":{"field":"g","type":"quantitative"},"y":{"field":"diff","type":"quantitative"}}},
{"data":{"name":"p10"},"transform":[{"joinaggregate":[{"op":"max","field":"diff","as":"peak"}]},{"filter":"datum.diff == datum.peak"}],"mark":{"type":"circle","size":30,"color":"#1e1e1e","stroke":"#f28a12","strokeWidth":1.5,"opacity":1,"clip":true},"encoding":{"x":{"field":"g","type":"quantitative"},"y":{"field":"diff","type":"quantitative"}}},
{"data":{"name":"stats"},"transform":[{"filter":"datum.panel == 10"}],"mark":{"type":"rect","color":"#4b4b4b","cornerRadius":5},"encoding":{"x":{"datum":1810},"x2":{"datum":11620},"y":{"datum":6277},"y2":{"datum":5327}}},
{"data":{"name":"stats"},"transform":[{"filter":"datum.panel == 10"}],"mark":{"type":"text","align":"left","baseline":"middle","lineHeight":24.6,"font":"Open Sans","fontSize":12,"fontWeight":"bold","color":"#ffffff"},"encoding":{"x":{"datum":2300},"y":{"datum":6125},"text":{"field":"names","type":"nominal"}}},
{"data":{"name":"stats"},"transform":[{"filter":"datum.panel == 10"}],"mark":{"type":"text","align":"right","baseline":"middle","lineHeight":24.6,"font":"Open Sans","fontSize":12,"fontWeight":"bold","color":"#ffffff"},"encoding":{"x":{"datum":11210},"y":{"datum":6125},"text":{"field":"counts","type":"nominal"}}},
{"data":{"name":"stats"},"transform":[{"filter":"datum.panel == 10"}],"mark":{"type":"text","align":"center","baseline":"middle","font":"Liberation Sans","fontSize":46,"fontWeight":"bold","color":"#ffff00"},"encoding":{"x":{"datum":16100},"y":{"datum":5697},"text":{"field":"games","type":"nominal"}}}
]}
],
"config": {
"view": {"stroke": null},
"axis": {"labelColor": "#dfe7f1", "labelFont": "DejaVu Sans", "labelFontSize": 11, "domainColor": "#e6e6e6", "tickColor": "#e6e6e6"},
"axisY": {"grid": true, "gridColor": "#aaaaaa", "gridDash": [4, 3], "gridWidth": 1, "tickSize": 9, "tickWidth": 1.5, "domainWidth": 1.5, "labelPadding": 10},
"axisX": {"grid": false, "domain": false, "ticks": false, "labels": false, "title": null}
}
}
